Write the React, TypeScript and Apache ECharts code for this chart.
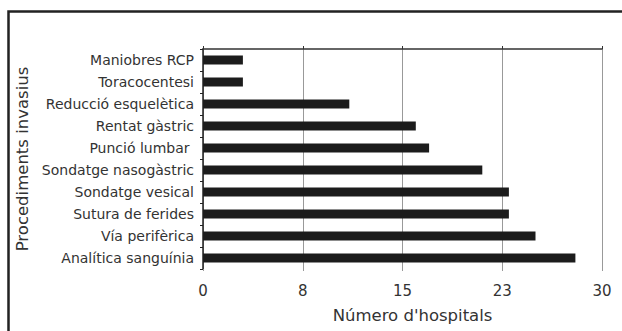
import React, { useEffect, useRef } from "react";
import * as echarts from "echarts";

const categories = [
  "Analítica sanguínia",
  "Vía perifèrica",
  "Sutura de ferides",
  "Sondatge vesical",
  "Sondatge nasogàstric",
  "Punció lumbar ",
  "Rentat gàstric",
  "Reducció esquelètica",
  "Toracocentesi",
  "Maniobres RCP",
];
const hospitals = [28, 25, 23, 23, 21, 17, 16, 11, 3, 3];
const xMin = 0;
const xMax = 30;
const xStep = 7.5;
const xTitle = "Número d'hospitals";
const yTitle = "Procediments invasius";

const FONT = "DejaVu Sans";

export default function App() {
  const ref = useRef<HTMLDivElement>(null);
  useEffect(() => {
    if (!ref.current) return;
    const chart = echarts.init(ref.current, null, { renderer: "svg" });
    chart.setOption({
      animation: false,
      backgroundColor: "#ffffff",
      textStyle: { fontFamily: FONT },
      graphic: [
        {
          type: "rect",
          shape: { x: 8.5, y: 11.5, width: 700, height: 400 },
          style: { fill: "none", stroke: "#222", lineWidth: 2.5 },
          silent: true,
        },
      ],
      grid: { left: 203, right: 20, top: 49, bottom: 62, containLabel: false },
      xAxis: [
        {
          type: "value",
          position: "bottom",
          min: xMin,
          max: xMax,
          interval: xStep,
          axisLine: { show: false },
          axisTick: { show: true, length: 2, lineStyle: { color: "#999" } },
          splitLine: { show: true, lineStyle: { color: "#999", width: 1 } },
          axisLabel: {
            color: "#333",
            fontSize: 15,
            fontFamily: FONT,
            margin: 14,
            formatter: (v: number) => String(Math.round(v)),
          },
          name: xTitle,
          nameLocation: "middle",
          nameGap: 38,
          nameTextStyle: { color: "#333", fontSize: 16.5, fontFamily: FONT, padding: [0, 0, 0, 20] },
        },
        {
          type: "value",
          position: "top",
          min: xMin,
          max: xMax,
          interval: xStep,
          axisLine: { show: true, lineStyle: { color: "#333", width: 1.5 } },
          axisTick: { show: true, length: 3, lineStyle: { color: "#333" } },
          splitLine: { show: false },
          axisLabel: { show: false },
        },
      ],
      yAxis: {
        type: "category",
        data: categories,
        axisLine: { show: true, lineStyle: { color: "#222", width: 1.5 } },
        axisTick: { show: true, length: 3, lineStyle: { color: "#222" } },
        axisLabel: { color: "#333", fontSize: 14, fontFamily: FONT, margin: 9 },
        name: yTitle,
        nameLocation: "middle",
        nameRotate: 90,
        nameGap: 170,
        nameTextStyle: { color: "#333", fontSize: 16.5, fontFamily: FONT },
      },
      series: [
        {
          type: "bar",
          data: hospitals,
          xAxisIndex: 0,
          barWidth: 9,
          itemStyle: { color: "#1c1c1c" },
        },
      ],
    });
    return () => chart.dispose();
  }, []);
  return (
    <div
      ref={ref}
      style={{ position: "absolute", left: 0, top: 0, width: 622, height: 331 }}
    />
  );
}
